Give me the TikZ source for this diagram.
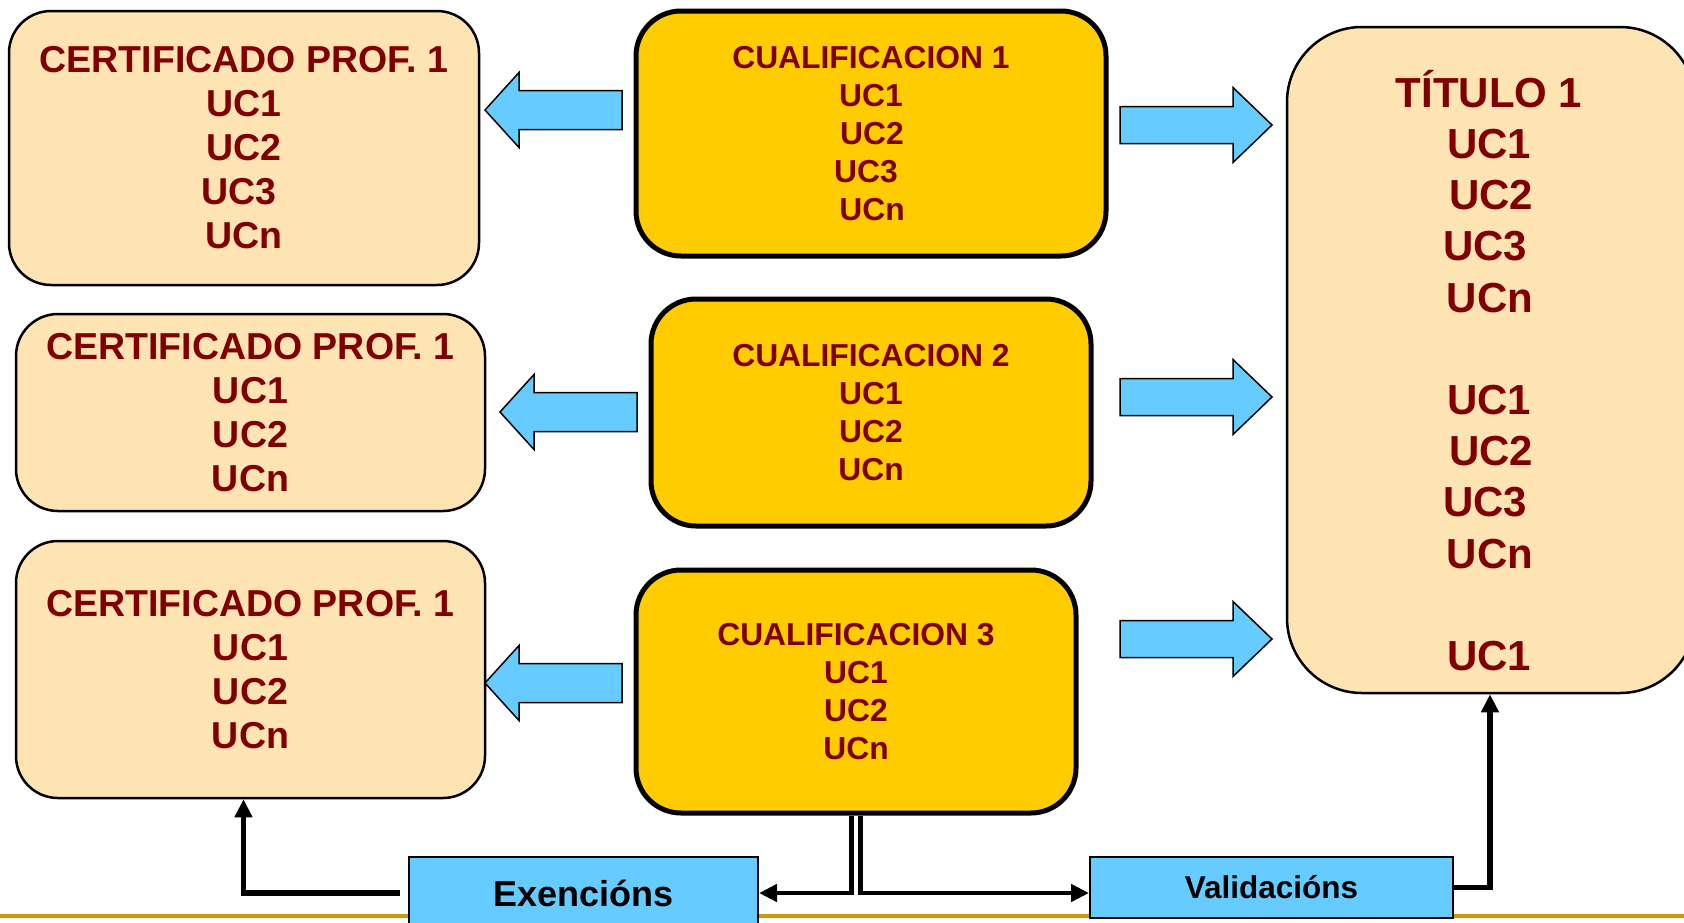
\documentclass[tikz,border=0pt]{standalone}
\usepackage{fontspec}
\setmainfont{Liberation Sans}
\usetikzlibrary{arrows.meta}
\definecolor{peach}{HTML}{FFE4B3}
\definecolor{goldfill}{HTML}{FFCC00}
\definecolor{sky}{HTML}{66CCFF}
\definecolor{darkred}{HTML}{800000}
\definecolor{ruleline}{HTML}{CC9900}
\begin{document}
\begin{tikzpicture}[x=1pt,y=-1pt,
  certbox/.style={draw=black, line width=2.5pt, fill=peach, rounded corners=42pt, inner sep=0pt, align=center, text=darkred, font=\fontsize{37.5}{44}\selectfont\bfseries},
  cualbox/.style={draw=black, line width=5pt, fill=goldfill, rounded corners=45pt, inner sep=0pt, align=center, text=darkred, font=\fontsize{31.8}{38}\selectfont\bfseries},
  titbox/.style={draw=black, line width=2.5pt, fill=peach, rounded corners=75pt, inner sep=0pt},
  tittext/.style={align=center, text=darkred, inner sep=0pt, font=\fontsize{42}{51.2}\selectfont\bfseries},
  bluebox/.style={draw=black, line width=2pt, fill=sky, inner sep=0pt},
  blockarrow/.style={draw=black, line width=1.5pt, fill=sky, line join=miter},
  conn/.style={draw=black, line width=5.5pt},
  tip/.style={-{Triangle[length=18pt,width=17pt]}},
  larrow/.pic={\draw[blockarrow] (0,0) -- (34,-37.5) -- (34,-19.5) -- (137,-19.5) -- (137,19.5) -- (34,19.5) -- (34,37.5) -- cycle;},
  rarrow/.pic={\draw[blockarrow] (0,-18.5) -- (113,-18.5) -- (113,-37.5) -- (152,0) -- (113,37.5) -- (113,18.5) -- (0,18.5) -- cycle;}
]
\useasboundingbox (0,0) rectangle (1684,922);
\clip (0,0) rectangle (1684,922);
\fill[white] (0,0) rectangle (1684,922);

% bottom rule
\draw[ruleline, line width=4pt] (0,916) -- (1684,916);

% certificate boxes
\node[certbox, minimum width=470pt, minimum height=274pt] (cert1) at (244,148)
  {CERTIFICADO PROF. 1\\UC1\\UC2\\\hspace*{-10pt}UC3\\UCn};
\node[certbox, minimum width=469pt, minimum height=197pt] (cert2) at (250.5,412.5)
  {CERTIFICADO PROF. 1\\UC1\\UC2\\UCn};
\node[certbox, minimum width=469pt, minimum height=257pt] (cert3) at (250.5,669.5)
  {CERTIFICADO PROF. 1\\UC1\\UC2\\UCn};

% qualification boxes
\node[cualbox, minimum width=470pt, minimum height=245pt] (cual1) at (871,133.5)
  {CUALIFICACION 1\\UC1\\\hspace*{2pt}UC2\\\hspace*{-10pt}UC3\\\hspace*{2pt}UCn};
\node[cualbox, minimum width=440pt, minimum height=227pt] (cual2) at (871,412.5)
  {CUALIFICACION 2\\UC1\\UC2\\UCn};
\node[cualbox, minimum width=440pt, minimum height=243pt] (cual3) at (856,691.5)
  {CUALIFICACION 3\\UC1\\UC2\\UCn};

% title box
\node[titbox, minimum width=408pt, minimum height=666pt] (tit) at (1491,360) {};
\node[tittext] (tittxt) at (1489,370.4)
  {T\'ITULO 1\\UC1\\\hspace*{4pt}UC2\\\hspace*{-8pt}UC3\\\hspace*{2pt}UCn\\[51.2pt]UC1\\\hspace*{4pt}UC2\\\hspace*{-8pt}UC3\\\hspace*{2pt}UCn\\[51.2pt]UC1};

% block arrows
\pic (la1) at (485,110) {larrow};
\pic (la2) at (500,412) {larrow};
\pic (la3) at (485,683) {larrow};
\pic (ra1) at (1120,125) {rarrow};
\pic (ra2) at (1120,397) {rarrow};
\pic (ra3) at (1120,639) {rarrow};

% bottom boxes
\node[bluebox, minimum width=349pt, minimum height=72pt, font=\fontsize{36}{40}\selectfont\bfseries] (exen) at (583.5,893) {Exenci\'ons};
\node[bluebox, minimum width=363pt, minimum height=61pt, font=\fontsize{31.5}{36}\selectfont\bfseries] (val) at (1271.5,887.5) {Validaci\'ons};

% connectors
\coordinate (e1) at (400,893);
\draw[conn, tip] (e1) -| ([xshift=-7pt]cert3.south);
\draw[conn, tip] (val.east) -| ([xshift=-1pt]tit.south);
\draw[conn, line width=4.5pt, tip] ([xshift=-4.5pt]cual3.south) |- (exen.east);
\draw[conn, line width=4.5pt, tip] ([xshift=4.5pt]cual3.south) |- ([yshift=-5.5pt]val.west);
\end{tikzpicture}
\end{document}
